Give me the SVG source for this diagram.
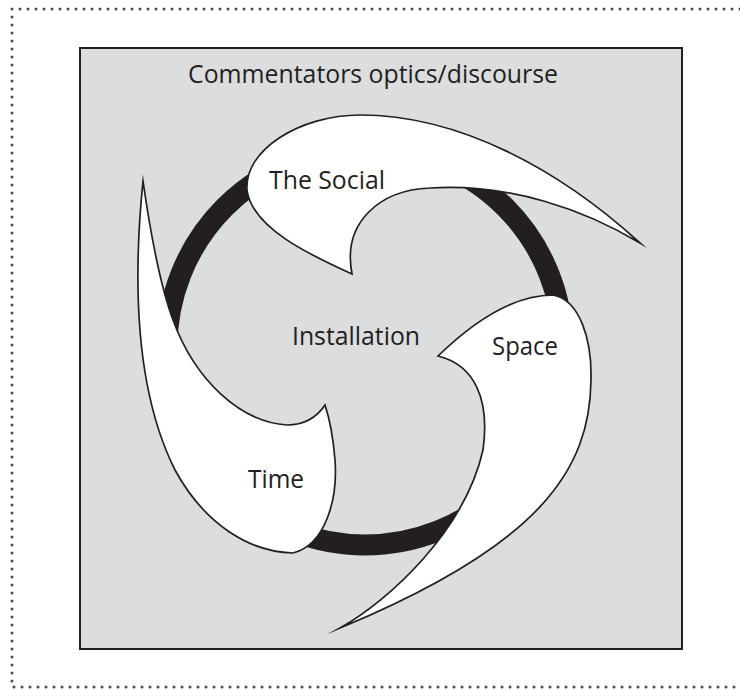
<svg xmlns="http://www.w3.org/2000/svg" width="740" height="690" viewBox="0 0 740 690">
<style>
  .lbl { font-family: "Open Sans", "Noto Sans", "DejaVu Sans", sans-serif; font-size: 26px; fill: #231f20; }
  .blade { fill: #ffffff; stroke: #231f20; stroke-width: 1.7; stroke-linejoin: miter; stroke-miterlimit: 20; }
  .dots { fill: none; stroke: #4d4d4f; stroke-width: 3; stroke-linecap: round; stroke-dasharray: 0 8; }
</style>
<rect width="740" height="690" fill="#ffffff"/>
<g id="frame">
  <path class="dots" d="M12,9 H744 M12,9 V687 H744"/>
</g>
<g id="container">
  <rect x="80" y="48" width="602" height="601" fill="#dcdddf" stroke="#231f20" stroke-width="2"/>
  <text class="lbl" x="188" y="83" textLength="370" lengthAdjust="spacingAndGlyphs">Commentators optics/discourse</text>
</g>
<g id="connectors">
  <circle cx="365" cy="347" r="198" fill="none" stroke="#231f20" stroke-width="21"/>
</g>
<g id="installation">
  <text class="lbl" x="292" y="345" textLength="128" lengthAdjust="spacingAndGlyphs">Installation</text>
</g>
<g id="the-social">
  <path class="blade" d="M352,274 C310,255 252,228 247,190 C244,150 300,115 360,115 C460,115 560,170 640,243 C585,210 510,183 430,188 C380,190 342,222 352,274 Z"/>
  <text class="lbl" x="269" y="189" textLength="116" lengthAdjust="spacingAndGlyphs">The Social</text>
</g>
<g id="space">
  <path class="blade" d="M438,356 C470,325 510,295 553,295 C580,300 592,340 591,380 C590,470 540,545 340,628 C390,600 465,530 483,450 C490,400 475,365 438,356 Z"/>
  <text class="lbl" x="492" y="355" textLength="66" lengthAdjust="spacingAndGlyphs">Space</text>
</g>
<g id="time">
  <path class="blade" d="M143,181 C133,280 135,390 175,470 C205,525 250,552 293,553 C325,545 338,500 335,460 C333,435 330,420 325,405 C315,420 300,425 287,425 C240,422 195,380 173,320 C160,285 150,230 143,181 Z"/>
  <text class="lbl" x="248" y="488" textLength="56" lengthAdjust="spacingAndGlyphs">Time</text>
</g>
</svg>
